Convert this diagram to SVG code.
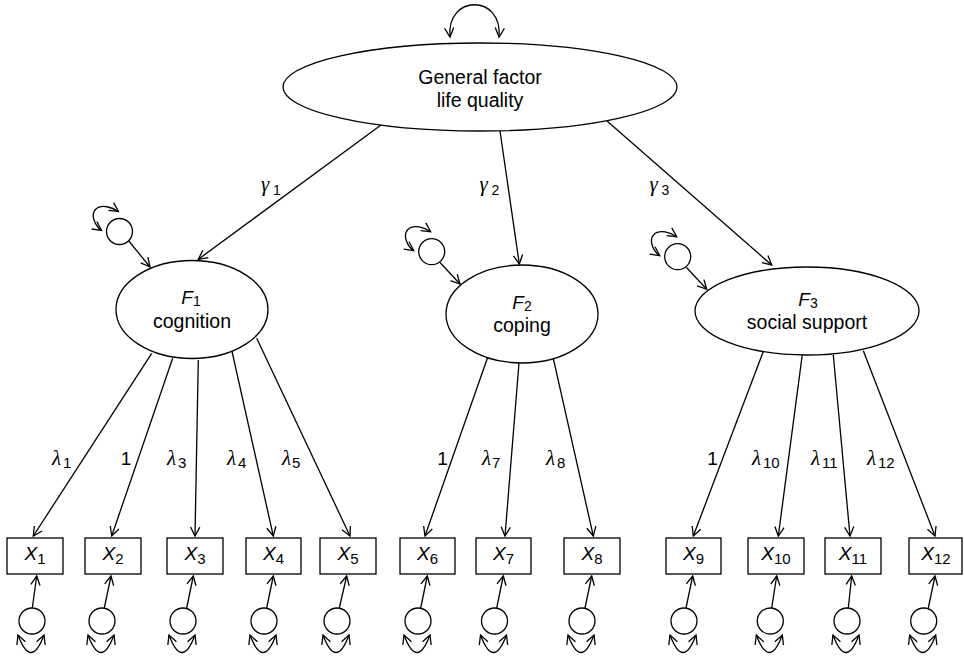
<svg xmlns="http://www.w3.org/2000/svg" width="964" height="656" viewBox="0 0 964 656">
<style>
.s{fill:#fff;stroke:#000;stroke-width:1.3}
.c{fill:none;stroke:#000;stroke-width:1.3}
.a{marker-end:url(#arr)}
.d{marker-start:url(#arr);marker-end:url(#arr)}
.t{font-family:"Liberation Sans",Arial,sans-serif;font-size:19.5px;fill:#000}
.i{font-family:"Liberation Sans",Arial,sans-serif;font-style:italic;font-size:19px;fill:#000}
.g{font-family:"Liberation Serif","Times New Roman",serif;font-style:italic;font-size:21px;fill:#000}
.n{font-family:"Liberation Sans",Arial,sans-serif;font-size:19px;fill:#000}
.sb{font-family:"Liberation Sans",Arial,sans-serif;font-style:normal;font-size:15px;fill:#000}
.sm{font-family:"Liberation Sans",Arial,sans-serif;font-style:normal;font-size:14px;fill:#000}
</style>
<defs>
<marker id="arr" markerUnits="userSpaceOnUse" markerWidth="14" markerHeight="14" viewBox="-11 -7 14 14" refX="0" refY="0" orient="auto-start-reverse" overflow="visible">
<path d="M-9,-4.6 L0,0 L-9,4.6" fill="none" stroke="#000" stroke-width="1.3"/>
</marker>
</defs>

<g id="connectors">
<path class="c d" d="M450,37 C446,-6 503,-6 499,37"/>
<line class="c a" x1="381" y1="125" x2="198.3" y2="259.3"/>
<line class="c a" x1="500" y1="131" x2="519.3" y2="264"/>
<line class="c a" x1="607" y1="121" x2="771.7" y2="265"/>
<line class="c a" x1="128" y1="240" x2="150" y2="267"/>
<line class="c a" x1="440" y1="262.5" x2="460" y2="284"/>
<line class="c a" x1="686.5" y1="267.5" x2="706.7" y2="289.3"/>
<path class="c d" transform="translate(119.5,231.5)" d="M-1,-20 C-7,-24 -18,-28 -24,-22 C-29,-17 -25,-6 -18,-1"/>
<path class="c d" transform="translate(431.7,251.7)" d="M-1,-20 C-7,-24 -18,-28 -24,-22 C-29,-17 -25,-6 -18,-1"/>
<path class="c d" transform="translate(677.7,256.7)" d="M-1,-20 C-7,-24 -18,-28 -24,-22 C-29,-17 -25,-6 -18,-1"/>
<line class="c a" x1="151.7" y1="353.3" x2="33.3" y2="536"/>
<line class="c a" x1="172.7" y1="358.3" x2="111.7" y2="536"/>
<line class="c a" x1="198.3" y1="360" x2="195" y2="536"/>
<line class="c a" x1="231.7" y1="350" x2="273.3" y2="536"/>
<line class="c a" x1="256.7" y1="338.3" x2="350" y2="536"/>
<line class="c a" x1="489.3" y1="352.7" x2="425" y2="536"/>
<line class="c a" x1="519.3" y1="359.3" x2="505" y2="536"/>
<line class="c a" x1="553.3" y1="358.3" x2="593.3" y2="536"/>
<line class="c a" x1="768.3" y1="338.3" x2="693.3" y2="536"/>
<line class="c a" x1="804" y1="341.7" x2="778.3" y2="536"/>
<line class="c a" x1="833.3" y1="355" x2="850" y2="536"/>
<line class="c a" x1="863.3" y1="350.7" x2="935" y2="536"/>
<line class="c a" x1="32.3" y1="608" x2="36.7" y2="576"/>
<line class="c a" x1="104.3" y1="608" x2="111" y2="576"/>
<line class="c a" x1="186.7" y1="608" x2="193.3" y2="576"/>
<line class="c a" x1="266.7" y1="608" x2="273.3" y2="576"/>
<line class="c a" x1="339.3" y1="608" x2="346.7" y2="576"/>
<line class="c a" x1="420.7" y1="608" x2="427.3" y2="576"/>
<line class="c a" x1="496.7" y1="608" x2="503.3" y2="576"/>
<line class="c a" x1="585" y1="608" x2="591.7" y2="576"/>
<line class="c a" x1="686" y1="608" x2="692.7" y2="576"/>
<line class="c a" x1="771.7" y1="608" x2="776.7" y2="576"/>
<line class="c a" x1="848.3" y1="608" x2="851.7" y2="576"/>
<line class="c a" x1="928.3" y1="608" x2="935" y2="576"/>
<path class="c d" d="M18,635 Q31,670 44,635"/>
<path class="c d" d="M88,635 Q101,670 114,635"/>
<path class="c d" d="M169,635 Q182,670 195,635"/>
<path class="c d" d="M250,635 Q263,670 276,635"/>
<path class="c d" d="M323,635 Q336,670 349,635"/>
<path class="c d" d="M404,635 Q417,670 430,635"/>
<path class="c d" d="M480.5,635 Q493.5,670 506.5,635"/>
<path class="c d" d="M568,635 Q581,670 594,635"/>
<path class="c d" d="M670,635 Q683,670 696,635"/>
<path class="c d" d="M756.3,635 Q769.3,670 782.3,635"/>
<path class="c d" d="M833,635 Q846,670 859,635"/>
<path class="c d" d="M909.7,635 Q922.7,670 935.7,635"/>
</g>

<g id="labels">
<text class="g" x="261" y="191">γ</text><text class="sm" x="273" y="195">1</text>
<text class="g" x="479.5" y="191">γ</text><text class="sm" x="491.5" y="195">2</text>
<text class="g" x="649.5" y="191">γ</text><text class="sm" x="661.5" y="195">3</text>
<text class="g" x="52" y="465">λ</text><text class="sb" x="63" y="467.5">1</text>
<text class="n" x="126" y="465" text-anchor="middle">1</text>
<text class="g" x="167" y="465">λ</text><text class="sb" x="178" y="467.5">3</text>
<text class="g" x="227" y="465">λ</text><text class="sb" x="238" y="467.5">4</text>
<text class="g" x="282" y="465">λ</text><text class="sb" x="292" y="467.5">5</text>
<text class="n" x="442.5" y="465" text-anchor="middle">1</text>
<text class="g" x="482" y="465">λ</text><text class="sb" x="492" y="467.5">7</text>
<text class="g" x="546" y="465">λ</text><text class="sb" x="557" y="467.5">8</text>
<text class="n" x="712.5" y="465" text-anchor="middle">1</text>
<text class="g" x="752" y="465">λ</text><text class="sb" x="763" y="467.5">10</text>
<text class="g" x="811" y="465">λ</text><text class="sb" x="822" y="467.5">11</text>
<text class="g" x="867" y="465">λ</text><text class="sb" x="878" y="467.5">12</text>
</g>

<g id="general">
<ellipse class="s" cx="480" cy="87" rx="197" ry="44"/>
<text class="t" x="480" y="83.5" text-anchor="middle">General factor</text>
<text class="t" x="480" y="106.5" text-anchor="middle">life quality</text>
</g>

<g id="F1">
<ellipse class="s" cx="192" cy="309.5" rx="76" ry="49"/>
<text class="i" x="191" y="303.5" text-anchor="middle">F<tspan class="sm" dy="2.5">1</tspan></text>
<text class="t" x="192" y="327.5" text-anchor="middle">cognition</text>
</g>
<g id="F2">
<ellipse class="s" cx="522" cy="314" rx="76" ry="49"/>
<text class="i" x="522" y="308.8" text-anchor="middle">F<tspan class="sm" dy="2.5">2</tspan></text>
<text class="t" x="522" y="332" text-anchor="middle">coping</text>
</g>
<g id="F3">
<ellipse class="s" cx="807" cy="311" rx="112" ry="44"/>
<text class="i" x="808" y="305.5" text-anchor="middle">F<tspan class="sm" dy="2.5">3</tspan></text>
<text class="t" x="807" y="329" text-anchor="middle">social support</text>
</g>

<g id="D1"><circle class="s" cx="119.5" cy="231.5" r="13"/></g>
<g id="D2"><circle class="s" cx="431.7" cy="251.7" r="13"/></g>
<g id="D3"><circle class="s" cx="677.7" cy="256.7" r="13"/></g>

<g id="X1"><rect class="s" x="7" y="538" width="56" height="36"/><text class="i" x="35" y="560" text-anchor="middle">X<tspan class="sb" dy="3.5">1</tspan></text></g>
<g id="X2"><rect class="s" x="85" y="538" width="56" height="36"/><text class="i" x="113" y="560" text-anchor="middle">X<tspan class="sb" dy="3.5">2</tspan></text></g>
<g id="X3"><rect class="s" x="167" y="538" width="56" height="36"/><text class="i" x="195" y="560" text-anchor="middle">X<tspan class="sb" dy="3.5">3</tspan></text></g>
<g id="X4"><rect class="s" x="246" y="538" width="55" height="36"/><text class="i" x="273.5" y="560" text-anchor="middle">X<tspan class="sb" dy="3.5">4</tspan></text></g>
<g id="X5"><rect class="s" x="320" y="538" width="56" height="36"/><text class="i" x="348" y="560" text-anchor="middle">X<tspan class="sb" dy="3.5">5</tspan></text></g>
<g id="X6"><rect class="s" x="400" y="538" width="55" height="36"/><text class="i" x="427.5" y="560" text-anchor="middle">X<tspan class="sb" dy="3.5">6</tspan></text></g>
<g id="X7"><rect class="s" x="476" y="538" width="55" height="36"/><text class="i" x="503.5" y="560" text-anchor="middle">X<tspan class="sb" dy="3.5">7</tspan></text></g>
<g id="X8"><rect class="s" x="564" y="538" width="56" height="36"/><text class="i" x="592" y="560" text-anchor="middle">X<tspan class="sb" dy="3.5">8</tspan></text></g>
<g id="X9"><rect class="s" x="666" y="538" width="55" height="36"/><text class="i" x="693.5" y="560" text-anchor="middle">X<tspan class="sb" dy="3.5">9</tspan></text></g>
<g id="X10"><rect class="s" x="748" y="538" width="56" height="36"/><text class="i" x="776" y="560" text-anchor="middle">X<tspan class="sb" dy="3.5">10</tspan></text></g>
<g id="X11"><rect class="s" x="825" y="538" width="56" height="36"/><text class="i" x="853" y="560" text-anchor="middle">X<tspan class="sb" dy="3.5">11</tspan></text></g>
<g id="X12"><rect class="s" x="909" y="538" width="53" height="36"/><text class="i" x="936" y="560" text-anchor="middle">X<tspan class="sb" dy="3.5">12</tspan></text></g>

<g id="E1"><circle class="s" cx="32" cy="621" r="13"/></g>
<g id="E2"><circle class="s" cx="102" cy="621" r="13"/></g>
<g id="E3"><circle class="s" cx="183" cy="621" r="13"/></g>
<g id="E4"><circle class="s" cx="264" cy="621" r="13"/></g>
<g id="E5"><circle class="s" cx="337" cy="621" r="13"/></g>
<g id="E6"><circle class="s" cx="418" cy="621" r="13"/></g>
<g id="E7"><circle class="s" cx="494.5" cy="621" r="13"/></g>
<g id="E8"><circle class="s" cx="582" cy="621" r="13"/></g>
<g id="E9"><circle class="s" cx="684" cy="621" r="13"/></g>
<g id="E10"><circle class="s" cx="770.3" cy="621" r="13"/></g>
<g id="E11"><circle class="s" cx="847" cy="621" r="13"/></g>
<g id="E12"><circle class="s" cx="923.7" cy="621" r="13"/></g>
</svg>
